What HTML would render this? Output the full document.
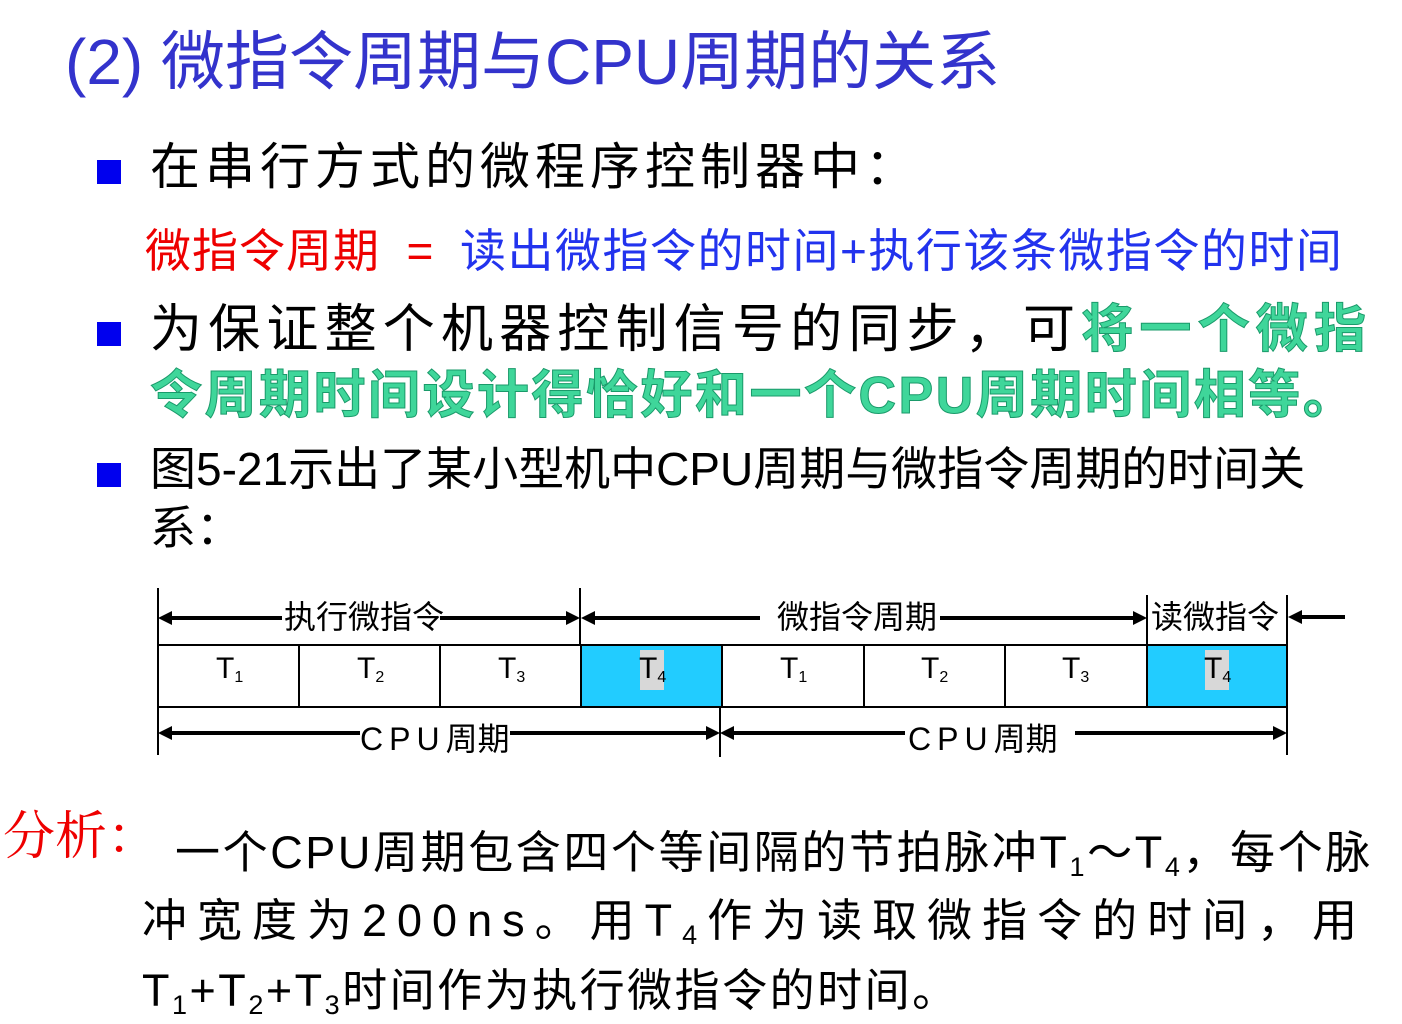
<!DOCTYPE html>
<html><head><meta charset="utf-8"><style>
body{margin:0;width:1402px;height:1024px;background:#fff;position:relative;overflow:hidden;font-family:"Liberation Sans","Noto Sans CJK SC",sans-serif}
.t{position:absolute;white-space:nowrap;line-height:1}
.sq{position:absolute;width:24px;height:24px;background:#0000ee}
.g{color:#3fd69a;font-weight:bold;-webkit-text-stroke:1px #1a9a6a}
sub{font-size:60%;vertical-align:-0.3em}
</style></head><body>
<div class="t" style="left:65px;top:30px;font-size:64px;color:#3333cc">(2) 微指令周期与CPU周期的关系</div>
<div class="sq" style="left:97px;top:160px"></div>
<div class="t" style="left:150px;top:142px;font-size:50px;color:#000;letter-spacing:5px">在串行方式的微程序控制器中：</div>
<div class="t" style="left:145px;top:228px;font-size:46px;color:#ee0000;letter-spacing:1px">微指令周期 <span style="letter-spacing:0">&nbsp;=&nbsp;</span> <span style="color:#2233ee;letter-spacing:1.5px">读出微指令的时间+执行该条微指令的时间</span></div>
<div class="sq" style="left:97px;top:322px"></div>
<div class="t" style="left:150px;top:304px;font-size:52px;letter-spacing:6.2px;color:#000">为保证整个机器控制信号的同步，可<span class="g">将一个微指</span></div>
<div class="t g" style="left:150px;top:370px;font-size:52px;letter-spacing:2.5px">令周期时间设计得恰好和一个CPU周期时间相等。</div>
<div class="sq" style="left:97px;top:463px"></div>
<div class="t" style="left:150px;top:446px;font-size:46px;color:#000;letter-spacing:0px">图5-21示出了某小型机中CPU周期与微指令周期的时间关</div>
<div class="t" style="left:150px;top:505px;font-size:46px;color:#000">系：</div>
<svg style="position:absolute;left:0;top:0" width="1402" height="1024">
<g stroke="#000" stroke-width="2" fill="none">
<rect x="581" y="645" width="141" height="62" fill="#22ccff"/>
<rect x="1147" y="645" width="140" height="62" fill="#22ccff"/>
<rect x="158" y="645" width="1129" height="62"/>
<path d="M299,645V707M440,645V707M581,645V707M722,645V707M864,645V707M1005,645V707M1147,645V707"/>
<path d="M158,588V755M580,588V645M1147,595V645M1287,595V755M720,707V757"/>
<g stroke-width="4">
<path d="M282,618H168M440,618H570"/>
<path d="M760,618H592M940,618H1137"/>
<path d="M1345,617H1298"/>
<path d="M360,733H168M510,733H710M905,733H730M1075,733H1277"/>
</g></g>
<g fill="#000">
<path d="M158,618l14,-7v14z M580,618l-14,-7v14z M581,618l14,-7v14z M1147,618l-14,-7v14z M1288,617l14,-7v14z M158,733l14,-7v14z M720,733l-14,-7v14z M720,733l14,-7v14z M1287,733l-14,-7v14z"/>
</g>
<rect x="640" y="650" width="24" height="40" fill="#d8d8d8"/>
<rect x="1205" y="650" width="24" height="40" fill="#d8d8d8"/>
<g font-family="Liberation Sans Narrow,Liberation Sans,sans-serif" font-size="30" fill="#000">
<text x="216" y="678">T<tspan font-size="16" dy="4">1</tspan></text>
<text x="357" y="678">T<tspan font-size="16" dy="4">2</tspan></text>
<text x="498" y="678">T<tspan font-size="16" dy="4">3</tspan></text>
<text x="639" y="678">T<tspan font-size="16" dy="4">4</tspan></text>
<text x="780" y="678">T<tspan font-size="16" dy="4">1</tspan></text>
<text x="921" y="678">T<tspan font-size="16" dy="4">2</tspan></text>
<text x="1062" y="678">T<tspan font-size="16" dy="4">3</tspan></text>
<text x="1204" y="678">T<tspan font-size="16" dy="4">4</tspan></text>
</g>
<g font-family="Liberation Sans,Noto Sans CJK SC,sans-serif" font-size="32" fill="#000">
<text x="284" y="628">执行微指令</text>
<text x="777" y="628">微指令周期</text>
<text x="1151" y="628">读微指令</text>
<text x="360" y="750" letter-spacing="6">CPU<tspan letter-spacing="0">周期</tspan></text>
<text x="908" y="750" letter-spacing="6">CPU<tspan letter-spacing="0">周期</tspan></text>
</g>
</svg>
<div class="t" style="left:3px;top:812px;font-size:52px;color:#ee0000;font-family:'Liberation Serif','Noto Serif CJK SC',serif">分析：</div>
<div class="t" style="left:175px;top:830px;font-size:45px;color:#000;letter-spacing:2.6px">一个CPU周期包含四个等间隔的节拍脉冲T<sub>1</sub>～T<sub>4</sub>，每个脉</div>
<div class="t" style="left:142px;top:898px;font-size:45px;color:#000;letter-spacing:10px">冲宽度为200ns。用T<sub>4</sub>作为读取微指令的时间，用</div>
<div class="t" style="left:142px;top:968px;font-size:45px;color:#000;letter-spacing:2.5px">T<sub>1</sub>+T<sub>2</sub>+T<sub>3</sub>时间作为执行微指令的时间。</div>
</body></html>
